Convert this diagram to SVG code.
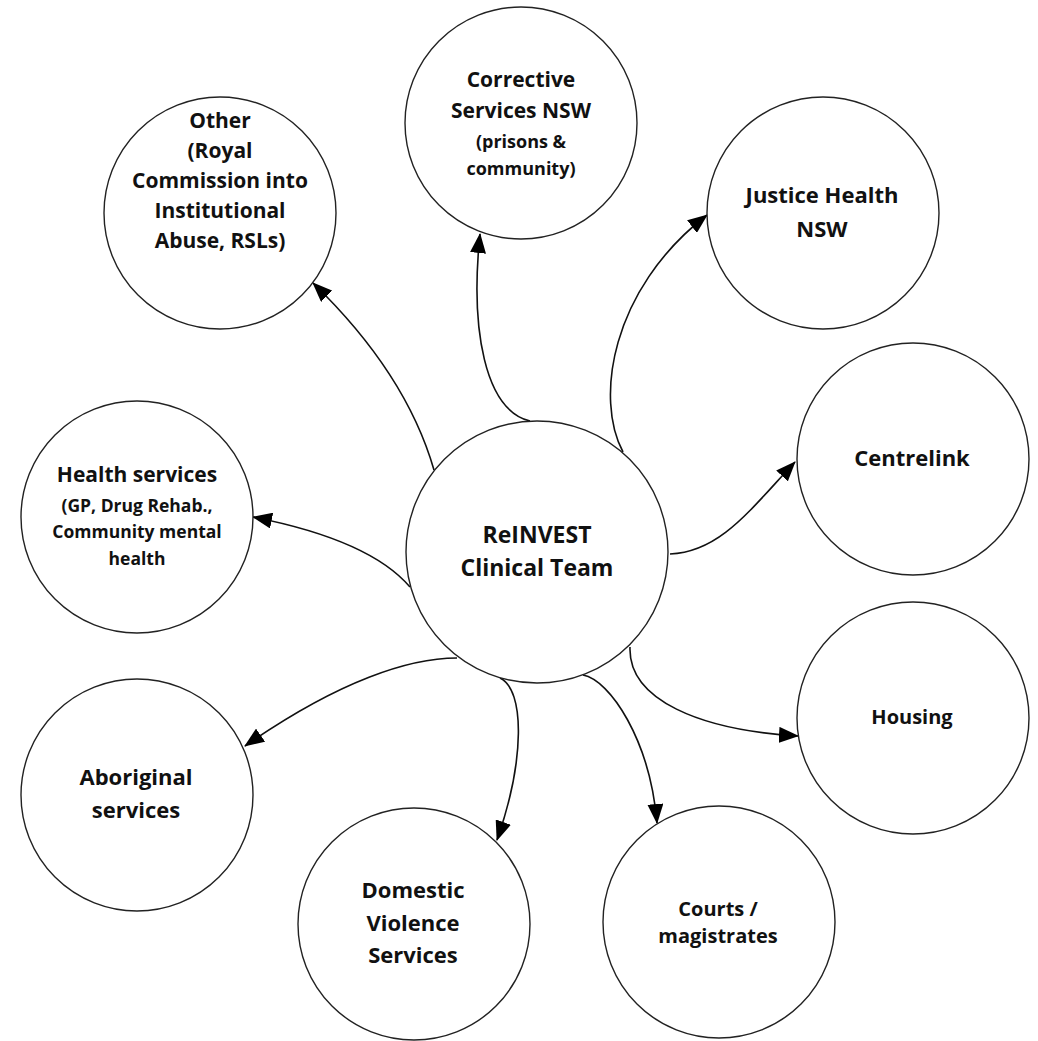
<svg xmlns="http://www.w3.org/2000/svg" width="1038" height="1041" viewBox="0 0 1038 1041">
<defs>
<marker id="ah" markerUnits="userSpaceOnUse" viewBox="0 0 20 16" markerWidth="20" markerHeight="16" refX="19" refY="8" orient="auto">
<path d="M0,0 L20,8 L0,16 z" fill="#000"/>
</marker>
<style>
.c{fill:#fff;stroke:#222;stroke-width:1.4}
.t{font-family:"Open Sans","Liberation Sans",sans-serif;font-weight:700;fill:#111;text-anchor:middle}
.e{fill:none;stroke:#111;stroke-width:1.6;marker-end:url(#ah)}
</style>
</defs>
<rect width="1038" height="1041" fill="#fff"/>
<g id="connectors">
<path class="e" d="M434,470 Q406,373 313,283"/>
<path class="e" d="M410,587 Q370,540 253,517"/>
<path class="e" d="M530,421 C485,410 470,330 480,234"/>
<path class="e" d="M623,452 C595,400 610,290 707,215"/>
<path class="e" d="M670,554 C720,552 750,510 795,462"/>
<path class="e" d="M630,647 C628,700 700,730 798,736"/>
<path class="e" d="M583,675 C610,680 650,740 657,823"/>
<path class="e" d="M500,678 C525,690 525,760 497,840"/>
<path class="e" d="M457,658 C410,658 340,680 245,746"/>
</g>
<g id="center">
<circle class="c" cx="537" cy="552" r="131"/>
<text class="t" font-size="23" x="537" y="543">ReINVEST</text>
<text class="t" font-size="23" x="537" y="576">Clinical Team</text>
</g>
<g id="other">
<circle class="c" cx="220" cy="213" r="116"/>
<text class="t" font-size="21" x="220" y="128">Other</text>
<text class="t" font-size="21" x="220" y="158">(Royal</text>
<text class="t" font-size="21" x="220" y="188">Commission into</text>
<text class="t" font-size="21" x="220" y="218">Institutional</text>
<text class="t" font-size="21" x="220" y="248">Abuse, RSLs)</text>
</g>
<g id="corrective">
<circle class="c" cx="521" cy="123" r="116"/>
<text class="t" font-size="21" x="521" y="87">Corrective</text>
<text class="t" font-size="21" x="521" y="118">Services NSW</text>
<text class="t" font-size="18" x="521" y="148">(prisons &amp;</text>
<text class="t" font-size="18" x="521" y="175">community)</text>
</g>
<g id="justice">
<circle class="c" cx="823" cy="213" r="116"/>
<text class="t" font-size="22" x="822" y="203">Justice Health</text>
<text class="t" font-size="22" x="822" y="237">NSW</text>
</g>
<g id="centrelink">
<circle class="c" cx="913" cy="459" r="116"/>
<text class="t" font-size="22" x="912" y="466">Centrelink</text>
</g>
<g id="housing">
<circle class="c" cx="913" cy="718" r="116"/>
<text class="t" font-size="20" x="912" y="724">Housing</text>
</g>
<g id="courts">
<circle class="c" cx="719" cy="922" r="116"/>
<text class="t" font-size="20" x="718" y="916">Courts /</text>
<text class="t" font-size="20" x="718" y="943">magistrates</text>
</g>
<g id="domestic">
<circle class="c" cx="414" cy="924" r="116"/>
<text class="t" font-size="22" x="413" y="898">Domestic</text>
<text class="t" font-size="22" x="413" y="931">Violence</text>
<text class="t" font-size="22" x="413" y="963">Services</text>
</g>
<g id="aboriginal">
<circle class="c" cx="137" cy="795" r="116"/>
<text class="t" font-size="22" x="136" y="785">Aboriginal</text>
<text class="t" font-size="22" x="136" y="818">services</text>
</g>
<g id="health">
<circle class="c" cx="137" cy="517" r="116"/>
<text class="t" font-size="21" x="137" y="482">Health services</text>
<text class="t" font-size="17.5" x="137" y="512">(GP, Drug Rehab.,</text>
<text class="t" font-size="17.5" x="137" y="538">Community mental</text>
<text class="t" font-size="17.5" x="137" y="565">health</text>
</g>
</svg>
